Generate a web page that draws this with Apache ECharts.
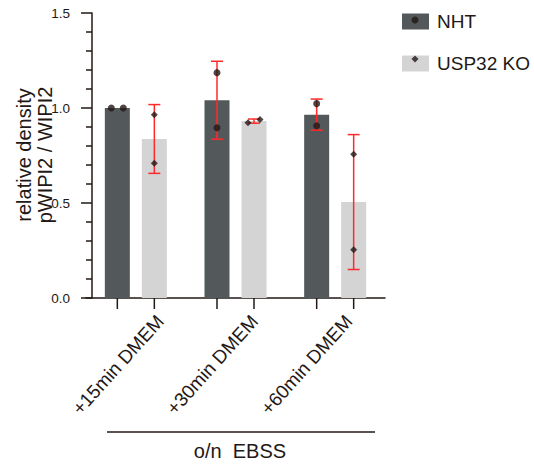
<!DOCTYPE html>
<html>
<head>
<meta charset="utf-8">
<script src="https://cdn.jsdelivr.net/npm/echarts@6/dist/echarts.min.js"></script>
<style>
  html, body { margin: 0; padding: 0; background: #ffffff; }
  #chart { width: 534px; height: 466px; }
</style>
</head>
<body>
<div id="chart"></div>
<script>
// Treatment conditions after overnight EBSS starvation
const categories = ['+15min DMEM', '+30min DMEM', '+60min DMEM'];

// Replicate measurements (relative density pWIPI2 / WIPI2)
const nhtReps = [[1.0, 1.0], [1.186, 0.896], [1.023, 0.907]];
const koReps = [[0.965, 0.709], [0.923, 0.939], [0.756, 0.254]];

// Bar heights (mean) and error (SD)
const nhtMean = [1.0, 1.041, 0.965];
const nhtSd = [0.0, 0.205, 0.082];
const koMean = [0.837, 0.931, 0.505];
const koSd = [0.181, 0.011, 0.355];

// Y axis
const yTicks = [0, 0.5, 1.0, 1.5];
const yTitle = 'relative density\npWIPI2 / WIPI2';

const INK = '#231815';
const NHT_COLOR = '#53585a';
const KO_COLOR = '#d4d4d4';
const ERR_COLOR = '#ff2a2a';
const BAR_W = 25;
const BAR_GAP = 12;
const HALF = (BAR_W + BAR_GAP) / 2;   // distance of each bar centre from the group centre
const FONT = '"Liberation Sans", Arial, Helvetica, sans-serif';

const chart = echarts.init(document.getElementById('chart'), null, { renderer: 'svg' });

function errorSeries(name, means, sds, dx) {
  return {
    name: name,
    type: 'custom',
    xAxisIndex: 0, yAxisIndex: 0,
    z: 4,
    clip: false,
    silent: true,
    data: means.map((m, i) => [i, m, sds[i]]),
    renderItem: function (params, api) {
      const sd = api.value(2);
      if (!(sd > 0)) return null;
      const top = api.coord([api.value(0), api.value(1) + sd]);
      const bot = api.coord([api.value(0), api.value(1) - sd]);
      const x = top[0] + dx;
      const cap = 6;
      const style = { stroke: ERR_COLOR, lineWidth: 1.5 };
      return {
        type: 'group',
        children: [
          { type: 'line', shape: { x1: x, y1: top[1], x2: x, y2: bot[1] }, style: style },
          { type: 'line', shape: { x1: x - cap, y1: top[1], x2: x + cap, y2: top[1] }, style: style },
          { type: 'line', shape: { x1: x - cap, y1: bot[1], x2: x + cap, y2: bot[1] }, style: style }
        ]
      };
    }
  };
}

function pointData(reps, dx) {
  const out = [];
  reps.forEach((pair, i) => {
    // spread overlapping replicates sideways so both stay visible
    const close = Math.abs(pair[0] - pair[1]) < 0.05;
    pair.forEach((v, j) => {
      const jitter = close ? (j === 0 ? -6 : 6) : 0;
      out.push({ value: [i, v], symbolOffset: [dx + jitter, 0] });
    });
  });
  return out;
}

const option = {
  backgroundColor: '#ffffff',
  animation: false,
  textStyle: { fontFamily: FONT, color: INK },
  grid: [
    { left: 86, width: 299, top: 13, height: 285, outerBoundsMode: 'none', containLabel: false },
    { left: 113, width: 283, top: 13, height: 285, outerBoundsMode: 'none', containLabel: false }
  ],
  legend: [
    {
      orient: 'vertical', left: 402, top: 12, padding: 0,
      itemWidth: 27, itemHeight: 16, itemGap: 23,
      icon: 'rect', selectedMode: false,
      data: ['NHT', 'USP32 KO'],
      textStyle: { fontSize: 19, color: INK, fontFamily: FONT, padding: [0, 0, 0, 3] }
    },
    {
      orient: 'vertical', left: 411.5, top: 16.5, padding: 0,
      itemWidth: 7, itemHeight: 7, itemGap: 32,
      selectedMode: false,
      data: ['NHT replicates', 'USP32 KO replicates'],
      formatter: function () { return ''; }
    }
  ],
  xAxis: [
    {
      type: 'category', gridIndex: 0, data: categories,
      axisLine: { lineStyle: { color: INK, width: 1.5 } },
      axisTick: { show: false },
      axisLabel: { show: false },
      splitLine: { show: false }
    },
    {
      type: 'category', gridIndex: 1, data: categories,
      axisLine: { show: false },
      axisTick: { show: false },
      axisLabel: { rotate: 48, margin: 20, fontSize: 19, color: INK, fontFamily: FONT },
      splitLine: { show: false }
    }
  ],
  yAxis: [
    {
      type: 'value', gridIndex: 0, min: yTicks[0], max: yTicks[yTicks.length - 1], interval: 0.5,
      offset: -6,
      axisLine: { show: true, lineStyle: { color: INK, width: 1.5 } },
      axisTick: { show: true, length: 11, lineStyle: { color: INK, width: 1.5 } },
      minorTick: { show: true, splitNumber: 5, length: 6, lineStyle: { color: INK, width: 1.5 } },
      axisLabel: { fontSize: 13.5, margin: 22, color: INK, fontFamily: FONT,
        formatter: v => v.toFixed(1) },
      splitLine: { show: false }
    },
    { type: 'value', gridIndex: 1, show: false, min: 0, max: 1.5 }
  ],
  series: [
    {
      name: 'NHT', type: 'bar', data: nhtMean,
      barWidth: BAR_W, barGap: (BAR_GAP / BAR_W * 100) + '%',
      itemStyle: { color: NHT_COLOR }, z: 2, silent: true
    },
    {
      name: 'USP32 KO', type: 'bar', data: koMean,
      barWidth: BAR_W, barGap: (BAR_GAP / BAR_W * 100) + '%',
      itemStyle: { color: KO_COLOR }, z: 2, silent: true
    },
    errorSeries('NHT SD', nhtMean, nhtSd, -HALF),
    errorSeries('USP32 KO SD', koMean, koSd, HALF),
    {
      name: 'NHT replicates', type: 'scatter', symbol: 'circle', symbolSize: 7,
      itemStyle: { color: INK }, z: 5, silent: true,
      data: pointData(nhtReps, -HALF)
    },
    {
      name: 'USP32 KO replicates', type: 'scatter', symbol: 'diamond', symbolSize: 7,
      itemStyle: { color: INK }, z: 5, silent: true,
      data: pointData(koReps, HALF)
    },
    {
      // x-axis ticks under each bar
      name: 'bar ticks', type: 'custom', clip: false, silent: true, z: 3,
      data: categories.map((c, i) => [i, 0]),
      renderItem: function (params, api) {
        const p = api.coord([api.value(0), 0]);
        const style = { stroke: INK, lineWidth: 1.5 };
        return {
          type: 'group',
          children: [-HALF, HALF].map(dx => ({
            type: 'line',
            shape: { x1: p[0] + dx, y1: p[1], x2: p[0] + dx, y2: p[1] + 11 },
            style: style
          }))
        };
      }
    }
  ],
  graphic: [
    {
      // y-axis title, two lines reading bottom to top
      type: 'text', z: 10, x: 34, y: 155, rotation: Math.PI / 2,
      style: { text: yTitle, fontSize: 20, lineHeight: 21, fontFamily: FONT, fill: INK,
        align: 'center', verticalAlign: 'middle' }
    },
    {
      type: 'line', z: 10,
      shape: { x1: 107, y1: 432, x2: 375, y2: 432 },
      style: { stroke: INK, lineWidth: 1.5 }
    },
    {
      type: 'text', z: 10, x: 240, y: 451,
      style: { text: 'o/n  EBSS', fontSize: 20, fontFamily: FONT, fill: INK,
        align: 'center', verticalAlign: 'middle' }
    }
  ]
};

chart.setOption(option);
</script>
</body>
</html>
